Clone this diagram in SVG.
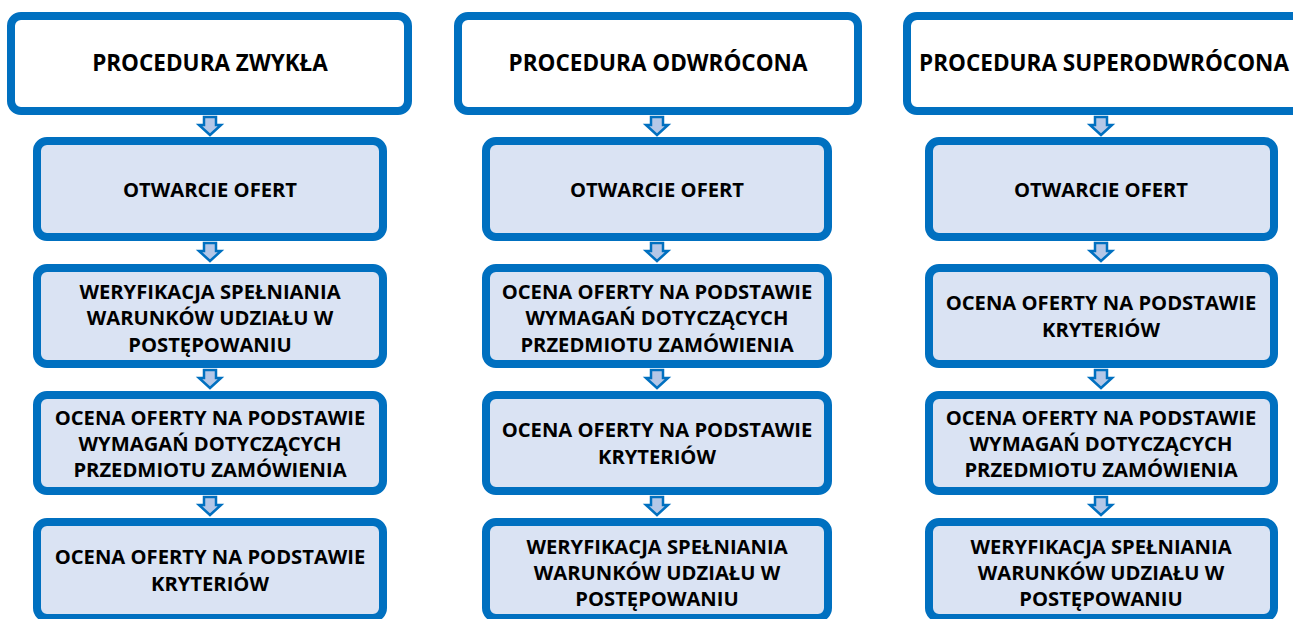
<svg xmlns="http://www.w3.org/2000/svg" width="1293" height="619" viewBox="0 0 1293 619">
<style>
.hdr{fill:#ffffff;stroke:#0070C0;stroke-width:8}
.box{fill:#DAE3F3;stroke:#0070C0;stroke-width:8}
.arr{fill:#B4C7E7;stroke:#0070C0;stroke-width:2.5;stroke-linejoin:miter}
text{font-family:"Open Sans",Lato,"Liberation Sans",sans-serif;font-weight:bold;fill:#000;text-anchor:middle}
.h{font-size:22.5px}
.t{font-size:20.2px}
</style>
<rect width="1293" height="619" fill="#ffffff"/>
<g id="connectors">
<path class="arr" d="M204,117 h12 v8 h5 l-11,10 l-11,-10 h5 z"/>
<path class="arr" d="M204,243 h12 v8 h5 l-11,10 l-11,-10 h5 z"/>
<path class="arr" d="M204,370 h12 v8 h5 l-11,10 l-11,-10 h5 z"/>
<path class="arr" d="M204,497 h12 v8 h5 l-11,10 l-11,-10 h5 z"/>
<path class="arr" d="M651,117 h12 v8 h5 l-11,10 l-11,-10 h5 z"/>
<path class="arr" d="M651,243 h12 v8 h5 l-11,10 l-11,-10 h5 z"/>
<path class="arr" d="M651,370 h12 v8 h5 l-11,10 l-11,-10 h5 z"/>
<path class="arr" d="M651,497 h12 v8 h5 l-11,10 l-11,-10 h5 z"/>
<path class="arr" d="M1095,117 h12 v8 h5 l-11,10 l-11,-10 h5 z"/>
<path class="arr" d="M1095,243 h12 v8 h5 l-11,10 l-11,-10 h5 z"/>
<path class="arr" d="M1095,370 h12 v8 h5 l-11,10 l-11,-10 h5 z"/>
<path class="arr" d="M1095,497 h12 v8 h5 l-11,10 l-11,-10 h5 z"/>
</g>
<g id="h1"><rect class="hdr" x="11" y="16" width="397" height="95" rx="10"/><text class="h" x="210" y="71">PROCEDURA ZWYKŁA</text></g>
<g id="h2"><rect class="hdr" x="458" y="16" width="400" height="95" rx="10"/><text class="h" x="658" y="71">PROCEDURA ODWRÓCONA</text></g>
<g id="h3"><rect class="hdr" x="907" y="16" width="400" height="95" rx="10"/><text class="h" x="1104" y="71">PROCEDURA SUPERODWRÓCONA</text></g>

<g id="c1r1"><rect class="box" x="37" y="141" width="346" height="96" rx="10"/><text class="t" x="210" y="197">OTWARCIE OFERT</text></g>
<g id="c1r2"><rect class="box" x="37" y="268" width="346" height="96" rx="10"/><text class="t" x="210" y="299">WERYFIKACJA SPEŁNIANIA</text><text class="t" x="210" y="325">WARUNKÓW UDZIAŁU W</text><text class="t" x="210" y="352">POSTĘPOWANIU</text></g>
<g id="c1r3"><rect class="box" x="37" y="395" width="346" height="96" rx="10"/><text class="t" x="210" y="425">OCENA OFERTY NA PODSTAWIE</text><text class="t" x="210" y="451">WYMAGAŃ DOTYCZĄCYCH</text><text class="t" x="210" y="477">PRZEDMIOTU ZAMÓWIENIA</text></g>
<g id="c1r4"><rect class="box" x="37" y="522" width="346" height="96" rx="10"/><text class="t" x="210" y="564">OCENA OFERTY NA PODSTAWIE</text><text class="t" x="210" y="591">KRYTERIÓW</text></g>

<g id="c2r1"><rect class="box" x="486" y="141" width="342" height="96" rx="10"/><text class="t" x="657" y="197">OTWARCIE OFERT</text></g>
<g id="c2r2"><rect class="box" x="486" y="268" width="342" height="96" rx="10"/><text class="t" x="657" y="299">OCENA OFERTY NA PODSTAWIE</text><text class="t" x="657" y="325">WYMAGAŃ DOTYCZĄCYCH</text><text class="t" x="657" y="352">PRZEDMIOTU ZAMÓWIENIA</text></g>
<g id="c2r3"><rect class="box" x="486" y="395" width="342" height="96" rx="10"/><text class="t" x="657" y="437">OCENA OFERTY NA PODSTAWIE</text><text class="t" x="657" y="464">KRYTERIÓW</text></g>
<g id="c2r4"><rect class="box" x="486" y="522" width="342" height="96" rx="10"/><text class="t" x="657" y="554">WERYFIKACJA SPEŁNIANIA</text><text class="t" x="657" y="580">WARUNKÓW UDZIAŁU W</text><text class="t" x="657" y="606">POSTĘPOWANIU</text></g>

<g id="c3r1"><rect class="box" x="929" y="141" width="345" height="96" rx="10"/><text class="t" x="1101" y="197">OTWARCIE OFERT</text></g>
<g id="c3r2"><rect class="box" x="929" y="268" width="345" height="96" rx="10"/><text class="t" x="1101" y="310">OCENA OFERTY NA PODSTAWIE</text><text class="t" x="1101" y="337">KRYTERIÓW</text></g>
<g id="c3r3"><rect class="box" x="929" y="395" width="345" height="96" rx="10"/><text class="t" x="1101" y="425">OCENA OFERTY NA PODSTAWIE</text><text class="t" x="1101" y="451">WYMAGAŃ DOTYCZĄCYCH</text><text class="t" x="1101" y="477">PRZEDMIOTU ZAMÓWIENIA</text></g>
<g id="c3r4"><rect class="box" x="929" y="522" width="345" height="96" rx="10"/><text class="t" x="1101" y="554">WERYFIKACJA SPEŁNIANIA</text><text class="t" x="1101" y="580">WARUNKÓW UDZIAŁU W</text><text class="t" x="1101" y="606">POSTĘPOWANIU</text></g>
</svg>
